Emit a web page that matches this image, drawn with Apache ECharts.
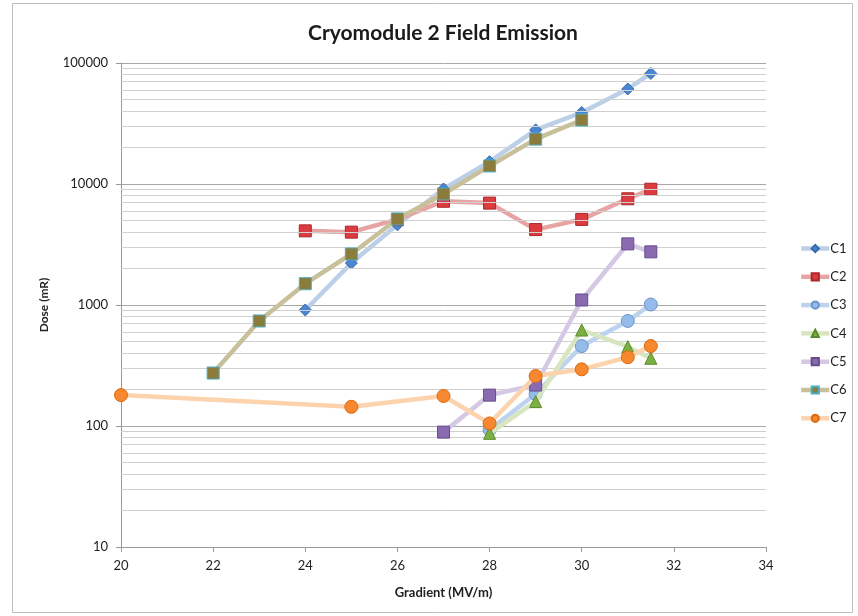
<!DOCTYPE html>
<html>
<head>
<meta charset="utf-8">
<script src="https://cdn.jsdelivr.net/npm/echarts@6/dist/echarts.min.js"></script>
<style>
  html, body { margin: 0; padding: 0; background: #fff; }
  #chart { width: 858px; height: 616px; }
</style>
</head>
<body>
<div id="chart"></div>
<script>
// Gradient (MV/m) vs dose (mR), one series per cavity
const seriesNames = ['C1', 'C2', 'C3', 'C4', 'C5', 'C6', 'C7'];

const c1 = [[24, 910], [25, 2220], [26, 4600], [27, 9100], [28, 15300], [29, 28000], [30, 39000], [31, 61000], [31.5, 82000]];
const c2 = [[24, 4100], [25, 4000], [26, 5100], [27, 7200], [28, 6950], [29, 4200], [30, 5100], [31, 7550], [31.5, 9050]];
const c3 = [[28, 93], [29, 184], [30, 458], [31, 738], [31.5, 1010]];
const c4 = [[28, 87], [29, 159], [30, 621], [31, 452], [31.5, 363]];
const c5 = [[27, 89], [28, 180], [29, 218], [30, 1100], [31, 3200], [31.5, 2750]];
const c6 = [[22, 274], [23, 738], [24, 1500], [25, 2640], [26, 5140], [27, 8270], [28, 14100], [29, 23500], [30, 33800]];
const c7 = [[20, 180], [25, 144], [27, 177], [28, 105], [29, 259], [30, 294], [31, 370], [31.5, 458]];

const xTicks = [20, 22, 24, 26, 28, 30, 32, 34];
const yDecades = [10, 100, 1000, 10000, 100000];

const seriesData = [c1, c2, c3, c4, c5, c6, c7];

// line colour, marker fill, marker border, marker shape, marker size
const styles = [
  { line: '#bccfe8', fill: '#4a86d2', border: '#3768a8', symbol: 'diamond', size: 12 },
  { line: '#e8a3a3', fill: '#dc3c40', border: '#a8282b', symbol: 'rect', size: 12 },
  { line: '#bcd2ee', fill: '#95bbea', border: '#6d95c8', symbol: 'circle', size: 13 },
  { line: '#d8e6c0', fill: '#7cb043', border: '#5b8a2a', symbol: 'triangle', size: 12 },
  { line: '#d5c8e4', fill: '#8a6bb2', border: '#674c8c', symbol: 'rect', size: 12 },
  { line: '#c8c09a', fill: '#8c7c3c', border: '#4bacc6', symbol: 'rect', size: 12 },
  { line: '#fdd3ae', fill: '#f7882f', border: '#db6a12', symbol: 'circle', size: 13 }
];

// minor log gridlines at 2..9 within each decade
const minorLines = [];
for (let d = 0; d < yDecades.length - 1; d++) {
  for (let m = 2; m <= 9; m++) minorLines.push({ yAxis: yDecades[d] * m });
}

const font = 'Lato, "Open Sans", sans-serif';

const series = seriesNames.map((name, i) => ({
  name: name,
  type: 'line',
  data: seriesData[i],
  symbol: styles[i].symbol,
  symbolSize: styles[i].size,
  lineStyle: { color: styles[i].line, width: 4.5 },
  itemStyle: { color: styles[i].fill, borderColor: styles[i].border, borderWidth: 1 },
  emphasis: { disabled: true },
  z: 3 + i
}));

// helper series carrying the minor gridlines
series.push({
  name: 'grid',
  type: 'line',
  data: [],
  silent: true,
  z: 1,
  markLine: {
    silent: true,
    symbol: ['none', 'none'],
    label: { show: false },
    lineStyle: { color: '#d0d0d0', width: 1, type: 'solid' },
    data: minorLines,
    animation: false
  }
});

const chart = echarts.init(document.getElementById('chart'), null, { renderer: 'canvas' });
chart.setOption({
  animation: false,
  backgroundColor: '#ffffff',
  title: {
    text: 'Cryomodule 2 Field Emission',
    left: 438,
    top: 18,
    textAlign: 'center',
    textStyle: { fontFamily: font, fontSize: 21, fontWeight: 'bold', color: '#1a1a1a' }
  },
  graphic: [{
    type: 'rect',
    shape: { x: 12.5, y: 3.5, width: 840, height: 609 },
    style: { fill: 'none', stroke: '#bdbdbd', lineWidth: 1 },
    silent: true
  }],
  legend: {
    data: seriesNames,
    orient: 'vertical',
    left: 794,
    top: 237,
    itemWidth: 28,
    itemHeight: 9,
    itemGap: 15.3,
    lineStyle: { width: 4.5 },
    textStyle: { fontFamily: font, fontSize: 13, color: '#222', padding: [0, 0, 0, -4] },
    selectedMode: false
  },
  grid: { left: 121, right: 92, top: 63, bottom: 69, containLabel: false },
  xAxis: {
    type: 'value',
    min: xTicks[0],
    max: xTicks[xTicks.length - 1],
    interval: 2,
    name: 'Gradient (MV/m)',
    nameLocation: 'middle',
    nameGap: 39,
    nameTextStyle: { fontFamily: font, fontSize: 13, fontWeight: 'bold', color: '#222' },
    axisLine: { lineStyle: { color: '#9a9a9a', width: 1 } },
    axisTick: { show: true, length: 5, lineStyle: { color: '#9a9a9a' } },
    axisLabel: { fontFamily: font, fontSize: 13, color: '#222', margin: 12 },
    splitLine: { show: false }
  },
  yAxis: {
    type: 'log',
    logBase: 10,
    min: yDecades[0],
    max: yDecades[yDecades.length - 1],
    name: 'Dose (mR)',
    nameLocation: 'middle',
    nameGap: 71,
    nameRotate: 90,
    nameTextStyle: { fontFamily: font, fontSize: 12, fontWeight: 'bold', color: '#222' },
    axisLine: { show: true, lineStyle: { color: '#9a9a9a', width: 1 } },
    axisTick: { show: true, length: 5, inside: false, lineStyle: { color: '#9a9a9a' } },
    axisLabel: { fontFamily: font, fontSize: 13, color: '#222', margin: 13, formatter: v => String(Math.round(v)) },
    splitLine: { show: true, lineStyle: { color: '#a8a8a8', width: 1 } }
  },
  series: series
});
</script>
</body>
</html>
